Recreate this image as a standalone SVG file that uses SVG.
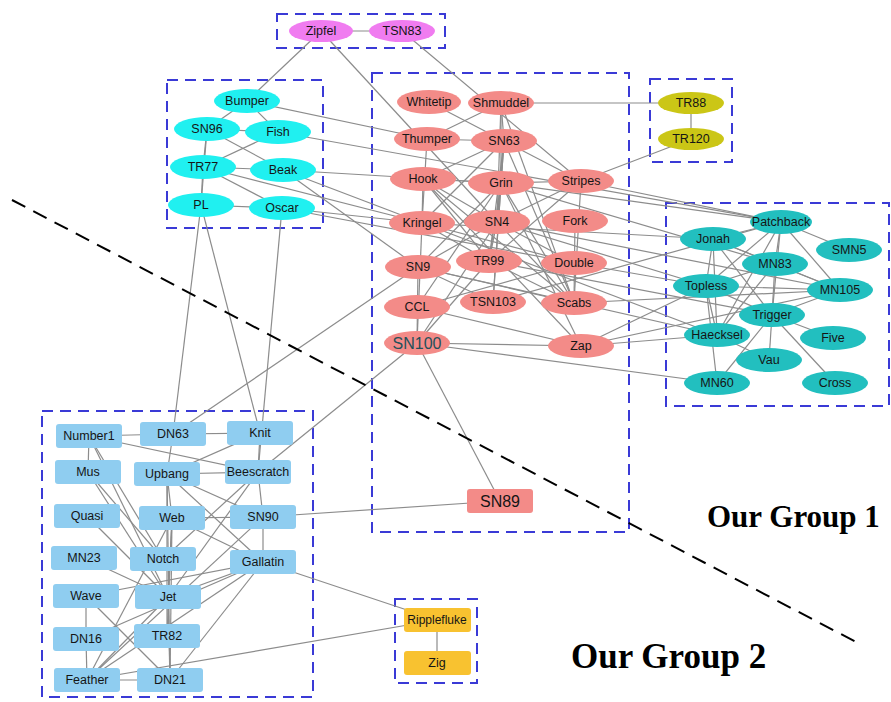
<svg xmlns="http://www.w3.org/2000/svg" width="891" height="702" viewBox="0 0 891 702">
<style>
.e line{stroke:#8c8c8c;stroke-width:1.2}
.box{fill:none;stroke:#3a3ad6;stroke-width:2;stroke-dasharray:11 7}
text{font-family:"Liberation Sans",Arial,sans-serif;font-size:12.5px;text-anchor:middle;fill:#151515}
.pk{fill:#f38b88}.cy{fill:#20f0f0}.tl{fill:#22bfbf}.mg{fill:#f07cf0}.ol{fill:#cbc616}.bl{fill:#8fcdf0}.gd{fill:#f8c230}
.big{font-size:16px}
.lab{font-family:"Liberation Serif","Times New Roman",serif;font-weight:bold;text-anchor:start;fill:#000}
</style>
<rect width="891" height="702" fill="#fff"/>
<g id="groups">
<rect class="box" x="277" y="14" width="168" height="34"/>
<rect class="box" x="167" y="80" width="156" height="148"/>
<rect class="box" x="372" y="73" width="257" height="459"/>
<rect class="box" x="650" y="79" width="82" height="83"/>
<rect class="box" x="666" y="203" width="223" height="203"/>
<rect class="box" x="42" y="411" width="271" height="286"/>
<rect class="box" x="395" y="599" width="82" height="84"/>
</g>
<g id="edges" class="e">
<line x1="321" y1="31" x2="402" y2="31"/>
<line x1="321" y1="31" x2="247" y2="101"/>
<line x1="321" y1="31" x2="497" y2="222"/>
<line x1="402" y1="31" x2="581" y2="181"/>
<line x1="247" y1="101" x2="207" y2="129"/>
<line x1="247" y1="101" x2="278" y2="132"/>
<line x1="247" y1="101" x2="427" y2="139"/>
<line x1="207" y1="129" x2="278" y2="132"/>
<line x1="207" y1="129" x2="203" y2="167"/>
<line x1="207" y1="129" x2="201" y2="205"/>
<line x1="207" y1="129" x2="283" y2="170"/>
<line x1="278" y1="132" x2="203" y2="167"/>
<line x1="278" y1="132" x2="781" y2="222"/>
<line x1="203" y1="167" x2="283" y2="170"/>
<line x1="203" y1="167" x2="201" y2="205"/>
<line x1="203" y1="167" x2="282" y2="208"/>
<line x1="203" y1="167" x2="422" y2="223"/>
<line x1="283" y1="170" x2="501" y2="183"/>
<line x1="283" y1="170" x2="717" y2="335"/>
<line x1="283" y1="170" x2="418" y2="267"/>
<line x1="201" y1="205" x2="282" y2="208"/>
<line x1="201" y1="205" x2="173" y2="434"/>
<line x1="201" y1="205" x2="260" y2="433"/>
<line x1="282" y1="208" x2="258" y2="472"/>
<line x1="282" y1="208" x2="574" y2="263"/>
<line x1="282" y1="208" x2="422" y2="223"/>
<line x1="429" y1="102" x2="504" y2="141"/>
<line x1="501" y1="103" x2="501" y2="183"/>
<line x1="501" y1="103" x2="574" y2="303"/>
<line x1="501" y1="103" x2="497" y2="222"/>
<line x1="501" y1="103" x2="504" y2="141"/>
<line x1="501" y1="103" x2="427" y2="139"/>
<line x1="501" y1="103" x2="691" y2="103"/>
<line x1="427" y1="139" x2="504" y2="141"/>
<line x1="427" y1="139" x2="422" y2="223"/>
<line x1="504" y1="141" x2="501" y2="183"/>
<line x1="504" y1="141" x2="423" y2="179"/>
<line x1="504" y1="141" x2="422" y2="223"/>
<line x1="504" y1="141" x2="574" y2="303"/>
<line x1="504" y1="141" x2="497" y2="222"/>
<line x1="504" y1="141" x2="581" y2="181"/>
<line x1="504" y1="141" x2="489" y2="261"/>
<line x1="504" y1="141" x2="493" y2="302"/>
<line x1="423" y1="179" x2="501" y2="183"/>
<line x1="423" y1="179" x2="422" y2="223"/>
<line x1="423" y1="179" x2="574" y2="303"/>
<line x1="423" y1="179" x2="497" y2="222"/>
<line x1="423" y1="179" x2="489" y2="261"/>
<line x1="423" y1="179" x2="581" y2="346"/>
<line x1="501" y1="183" x2="417" y2="307"/>
<line x1="501" y1="183" x2="775" y2="264"/>
<line x1="501" y1="183" x2="781" y2="222"/>
<line x1="501" y1="183" x2="574" y2="303"/>
<line x1="501" y1="183" x2="497" y2="222"/>
<line x1="501" y1="183" x2="418" y2="267"/>
<line x1="501" y1="183" x2="581" y2="181"/>
<line x1="501" y1="183" x2="489" y2="261"/>
<line x1="501" y1="183" x2="493" y2="302"/>
<line x1="501" y1="183" x2="581" y2="346"/>
<line x1="581" y1="181" x2="781" y2="222"/>
<line x1="581" y1="181" x2="574" y2="303"/>
<line x1="581" y1="181" x2="497" y2="222"/>
<line x1="581" y1="181" x2="691" y2="139"/>
<line x1="581" y1="181" x2="489" y2="261"/>
<line x1="422" y1="223" x2="574" y2="263"/>
<line x1="422" y1="223" x2="713" y2="239"/>
<line x1="422" y1="223" x2="417" y2="343"/>
<line x1="422" y1="223" x2="489" y2="261"/>
<line x1="497" y1="222" x2="574" y2="263"/>
<line x1="497" y1="222" x2="840" y2="290"/>
<line x1="497" y1="222" x2="574" y2="303"/>
<line x1="497" y1="222" x2="417" y2="343"/>
<line x1="497" y1="222" x2="418" y2="267"/>
<line x1="497" y1="222" x2="706" y2="286"/>
<line x1="497" y1="222" x2="489" y2="261"/>
<line x1="575" y1="221" x2="574" y2="303"/>
<line x1="418" y1="267" x2="173" y2="434"/>
<line x1="418" y1="267" x2="717" y2="335"/>
<line x1="418" y1="267" x2="574" y2="303"/>
<line x1="418" y1="267" x2="417" y2="343"/>
<line x1="418" y1="267" x2="493" y2="302"/>
<line x1="489" y1="261" x2="574" y2="303"/>
<line x1="489" y1="261" x2="417" y2="343"/>
<line x1="489" y1="261" x2="772" y2="315"/>
<line x1="574" y1="263" x2="417" y2="307"/>
<line x1="574" y1="263" x2="706" y2="286"/>
<line x1="417" y1="307" x2="581" y2="346"/>
<line x1="574" y1="303" x2="840" y2="290"/>
<line x1="417" y1="343" x2="717" y2="383"/>
<line x1="417" y1="343" x2="258" y2="472"/>
<line x1="417" y1="343" x2="500" y2="501"/>
<line x1="417" y1="343" x2="581" y2="346"/>
<line x1="581" y1="346" x2="717" y2="335"/>
<line x1="581" y1="346" x2="840" y2="290"/>
<line x1="581" y1="346" x2="706" y2="286"/>
<line x1="493" y1="302" x2="781" y2="222"/>
<line x1="500" y1="501" x2="263" y2="517"/>
<line x1="691" y1="103" x2="691" y2="139"/>
<line x1="781" y1="222" x2="713" y2="239"/>
<line x1="781" y1="222" x2="840" y2="290"/>
<line x1="781" y1="222" x2="775" y2="264"/>
<line x1="781" y1="222" x2="849" y2="250"/>
<line x1="781" y1="222" x2="706" y2="286"/>
<line x1="781" y1="222" x2="772" y2="315"/>
<line x1="781" y1="222" x2="717" y2="335"/>
<line x1="713" y1="239" x2="717" y2="335"/>
<line x1="713" y1="239" x2="840" y2="290"/>
<line x1="713" y1="239" x2="775" y2="264"/>
<line x1="713" y1="239" x2="706" y2="286"/>
<line x1="713" y1="239" x2="772" y2="315"/>
<line x1="775" y1="264" x2="717" y2="335"/>
<line x1="775" y1="264" x2="840" y2="290"/>
<line x1="775" y1="264" x2="706" y2="286"/>
<line x1="775" y1="264" x2="772" y2="315"/>
<line x1="706" y1="286" x2="717" y2="335"/>
<line x1="706" y1="286" x2="840" y2="290"/>
<line x1="706" y1="286" x2="717" y2="383"/>
<line x1="706" y1="286" x2="772" y2="315"/>
<line x1="772" y1="315" x2="840" y2="290"/>
<line x1="772" y1="315" x2="717" y2="383"/>
<line x1="772" y1="315" x2="769" y2="360"/>
<line x1="772" y1="315" x2="833" y2="338"/>
<line x1="772" y1="315" x2="835" y2="383"/>
<line x1="717" y1="335" x2="769" y2="360"/>
<line x1="89" y1="436" x2="173" y2="434"/>
<line x1="89" y1="436" x2="258" y2="472"/>
<line x1="89" y1="436" x2="88" y2="472"/>
<line x1="89" y1="436" x2="163" y2="559"/>
<line x1="89" y1="436" x2="168" y2="597"/>
<line x1="173" y1="434" x2="260" y2="433"/>
<line x1="173" y1="434" x2="167" y2="474"/>
<line x1="260" y1="433" x2="258" y2="472"/>
<line x1="260" y1="433" x2="167" y2="474"/>
<line x1="88" y1="472" x2="168" y2="597"/>
<line x1="88" y1="472" x2="163" y2="559"/>
<line x1="167" y1="474" x2="258" y2="472"/>
<line x1="167" y1="474" x2="170" y2="680"/>
<line x1="167" y1="474" x2="263" y2="562"/>
<line x1="167" y1="474" x2="263" y2="517"/>
<line x1="167" y1="474" x2="167" y2="636"/>
<line x1="167" y1="474" x2="172" y2="518"/>
<line x1="258" y1="472" x2="168" y2="597"/>
<line x1="258" y1="472" x2="163" y2="559"/>
<line x1="258" y1="472" x2="263" y2="517"/>
<line x1="172" y1="518" x2="170" y2="680"/>
<line x1="172" y1="518" x2="87" y2="680"/>
<line x1="172" y1="518" x2="263" y2="562"/>
<line x1="172" y1="518" x2="168" y2="597"/>
<line x1="172" y1="518" x2="263" y2="517"/>
<line x1="172" y1="518" x2="167" y2="636"/>
<line x1="263" y1="517" x2="87" y2="680"/>
<line x1="263" y1="517" x2="263" y2="562"/>
<line x1="87" y1="516" x2="168" y2="597"/>
<line x1="84" y1="558" x2="168" y2="597"/>
<line x1="263" y1="562" x2="86" y2="639"/>
<line x1="263" y1="562" x2="170" y2="680"/>
<line x1="263" y1="562" x2="87" y2="680"/>
<line x1="263" y1="562" x2="168" y2="597"/>
<line x1="263" y1="562" x2="86" y2="596"/>
<line x1="263" y1="562" x2="437" y2="620"/>
<line x1="168" y1="597" x2="170" y2="680"/>
<line x1="168" y1="597" x2="87" y2="680"/>
<line x1="86" y1="596" x2="86" y2="639"/>
<line x1="86" y1="596" x2="170" y2="680"/>
<line x1="86" y1="639" x2="87" y2="680"/>
<line x1="87" y1="680" x2="170" y2="680"/>
<line x1="87" y1="680" x2="437" y2="620"/>
<line x1="437" y1="620" x2="437" y2="663"/>
</g>
<g id="divider"><line x1="12" y1="200" x2="856" y2="642" stroke="#000" stroke-width="2" stroke-dasharray="15 9"/></g>
<g id="n-Zipfel"><ellipse class="mg" cx="321" cy="31" rx="32" ry="11"/><text x="321" y="35">Zipfel</text></g>
<g id="n-TSN83"><ellipse class="mg" cx="402" cy="31" rx="33" ry="11"/><text x="402" y="35">TSN83</text></g>
<g id="n-Bumper"><ellipse class="cy" cx="247" cy="101" rx="33" ry="12"/><text x="247" y="105">Bumper</text></g>
<g id="n-SN96"><ellipse class="cy" cx="207" cy="129" rx="33" ry="12"/><text x="207" y="133">SN96</text></g>
<g id="n-Fish"><ellipse class="cy" cx="278" cy="132" rx="33" ry="12"/><text x="278" y="136">Fish</text></g>
<g id="n-TR77"><ellipse class="cy" cx="203" cy="167" rx="33" ry="12"/><text x="203" y="171">TR77</text></g>
<g id="n-Beak"><ellipse class="cy" cx="283" cy="170" rx="33" ry="12"/><text x="283" y="174">Beak</text></g>
<g id="n-PL"><ellipse class="cy" cx="201" cy="205" rx="33" ry="12"/><text x="201" y="209">PL</text></g>
<g id="n-Oscar"><ellipse class="cy" cx="282" cy="208" rx="33" ry="12"/><text x="282" y="212">Oscar</text></g>
<g id="n-Whitetip"><ellipse class="pk" cx="429" cy="102" rx="32" ry="12"/><text x="429" y="106">Whitetip</text></g>
<g id="n-Shmuddel"><ellipse class="pk" cx="501" cy="103" rx="33" ry="12"/><text x="501" y="107">Shmuddel</text></g>
<g id="n-Thumper"><ellipse class="pk" cx="427" cy="139" rx="33" ry="12"/><text x="427" y="143">Thumper</text></g>
<g id="n-SN63"><ellipse class="pk" cx="504" cy="141" rx="33" ry="12"/><text x="504" y="145">SN63</text></g>
<g id="n-Hook"><ellipse class="pk" cx="423" cy="179" rx="33" ry="12"/><text x="423" y="183">Hook</text></g>
<g id="n-Grin"><ellipse class="pk" cx="501" cy="183" rx="33" ry="12"/><text x="501" y="187">Grin</text></g>
<g id="n-Stripes"><ellipse class="pk" cx="581" cy="181" rx="33" ry="12"/><text x="581" y="185">Stripes</text></g>
<g id="n-Kringel"><ellipse class="pk" cx="422" cy="223" rx="33" ry="12"/><text x="422" y="227">Kringel</text></g>
<g id="n-SN4"><ellipse class="pk" cx="497" cy="222" rx="33" ry="12"/><text x="497" y="226">SN4</text></g>
<g id="n-Fork"><ellipse class="pk" cx="575" cy="221" rx="33" ry="12"/><text x="575" y="225">Fork</text></g>
<g id="n-SN9"><ellipse class="pk" cx="418" cy="267" rx="33" ry="12"/><text x="418" y="271">SN9</text></g>
<g id="n-TR99"><ellipse class="pk" cx="489" cy="261" rx="33" ry="12"/><text x="489" y="265">TR99</text></g>
<g id="n-Double"><ellipse class="pk" cx="574" cy="263" rx="33" ry="12"/><text x="574" y="267">Double</text></g>
<g id="n-CCL"><ellipse class="pk" cx="417" cy="307" rx="33" ry="12"/><text x="417" y="311">CCL</text></g>
<g id="n-TSN103"><ellipse class="pk" cx="493" cy="302" rx="33" ry="12"/><text x="493" y="306">TSN103</text></g>
<g id="n-Scabs"><ellipse class="pk" cx="574" cy="303" rx="33" ry="12"/><text x="574" y="307">Scabs</text></g>
<g id="n-SN100"><ellipse class="pk" cx="417" cy="343" rx="33" ry="12"/><text class="big" x="417" y="349" style="fill:#24505a">SN100</text></g>
<g id="n-Zap"><ellipse class="pk" cx="581" cy="346" rx="33" ry="12"/><text x="581" y="350">Zap</text></g>
<g id="n-SN89"><rect class="pk" x="467" y="489" width="66" height="24" rx="3"/><text class="big" x="500" y="507">SN89</text></g>
<g id="n-TR88"><ellipse class="ol" cx="691" cy="103" rx="33" ry="11"/><text x="691" y="107">TR88</text></g>
<g id="n-TR120"><ellipse class="ol" cx="691" cy="139" rx="33" ry="11"/><text x="691" y="143">TR120</text></g>
<g id="n-Patchback"><ellipse class="tl" cx="781" cy="222" rx="31" ry="12"/><text x="781" y="226">Patchback</text></g>
<g id="n-Jonah"><ellipse class="tl" cx="713" cy="239" rx="33" ry="12"/><text x="713" y="243">Jonah</text></g>
<g id="n-SMN5"><ellipse class="tl" cx="849" cy="250" rx="33" ry="12"/><text x="849" y="254">SMN5</text></g>
<g id="n-MN83"><ellipse class="tl" cx="775" cy="264" rx="33" ry="12"/><text x="775" y="268">MN83</text></g>
<g id="n-Topless"><ellipse class="tl" cx="706" cy="286" rx="33" ry="12"/><text x="706" y="290">Topless</text></g>
<g id="n-MN105"><ellipse class="tl" cx="840" cy="290" rx="33" ry="12"/><text x="840" y="294">MN105</text></g>
<g id="n-Trigger"><ellipse class="tl" cx="772" cy="315" rx="33" ry="12"/><text x="772" y="319">Trigger</text></g>
<g id="n-Haecksel"><ellipse class="tl" cx="717" cy="335" rx="33" ry="12"/><text x="717" y="339">Haecksel</text></g>
<g id="n-Five"><ellipse class="tl" cx="833" cy="338" rx="33" ry="12"/><text x="833" y="342">Five</text></g>
<g id="n-Vau"><ellipse class="tl" cx="769" cy="360" rx="33" ry="12"/><text x="769" y="364">Vau</text></g>
<g id="n-MN60"><ellipse class="tl" cx="717" cy="383" rx="33" ry="12"/><text x="717" y="387">MN60</text></g>
<g id="n-Cross"><ellipse class="tl" cx="835" cy="383" rx="33" ry="12"/><text x="835" y="387">Cross</text></g>
<g id="n-Number1"><rect class="bl" x="56" y="424" width="66" height="24" rx="3"/><text x="89" y="440">Number1</text></g>
<g id="n-DN63"><rect class="bl" x="140" y="422" width="66" height="24" rx="3"/><text x="173" y="438">DN63</text></g>
<g id="n-Knit"><rect class="bl" x="227" y="421" width="66" height="24" rx="3"/><text x="260" y="437">Knit</text></g>
<g id="n-Mus"><rect class="bl" x="55" y="460" width="66" height="24" rx="3"/><text x="88" y="476">Mus</text></g>
<g id="n-Upbang"><rect class="bl" x="134" y="462" width="66" height="24" rx="3"/><text x="167" y="478">Upbang</text></g>
<g id="n-Beescratch"><rect class="bl" x="225" y="460" width="66" height="24" rx="3"/><text x="258" y="476">Beescratch</text></g>
<g id="n-Quasi"><rect class="bl" x="54" y="504" width="66" height="24" rx="3"/><text x="87" y="520">Quasi</text></g>
<g id="n-Web"><rect class="bl" x="139" y="506" width="66" height="24" rx="3"/><text x="172" y="522">Web</text></g>
<g id="n-SN90"><rect class="bl" x="230" y="505" width="66" height="24" rx="3"/><text x="263" y="521">SN90</text></g>
<g id="n-MN23"><rect class="bl" x="51" y="546" width="66" height="24" rx="3"/><text x="84" y="562">MN23</text></g>
<g id="n-Notch"><rect class="bl" x="130" y="547" width="66" height="24" rx="3"/><text x="163" y="563">Notch</text></g>
<g id="n-Gallatin"><rect class="bl" x="230" y="550" width="66" height="24" rx="3"/><text x="263" y="566">Gallatin</text></g>
<g id="n-Wave"><rect class="bl" x="53" y="584" width="66" height="24" rx="3"/><text x="86" y="600">Wave</text></g>
<g id="n-Jet"><rect class="bl" x="135" y="585" width="66" height="24" rx="3"/><text x="168" y="601">Jet</text></g>
<g id="n-DN16"><rect class="bl" x="53" y="627" width="66" height="24" rx="3"/><text x="86" y="643">DN16</text></g>
<g id="n-TR82"><rect class="bl" x="134" y="624" width="66" height="24" rx="3"/><text x="167" y="640">TR82</text></g>
<g id="n-Feather"><rect class="bl" x="54" y="668" width="66" height="24" rx="3"/><text x="87" y="684">Feather</text></g>
<g id="n-DN21"><rect class="bl" x="137" y="668" width="66" height="24" rx="3"/><text x="170" y="684">DN21</text></g>
<g id="n-Ripplefluke"><rect class="gd" x="404" y="608" width="67" height="24" rx="3"/><text x="437" y="624" style="font-size:12px">Ripplefluke</text></g>
<g id="n-Zig"><rect class="gd" x="404" y="651" width="67" height="24" rx="3"/><text x="437" y="667">Zig</text></g>
<g id="labels">
<text class="lab" x="707" y="527" style="font-size:31px">Our Group 1</text>
<text class="lab" x="571" y="668" style="font-size:35px">Our Group 2</text>
</g>
</svg>
